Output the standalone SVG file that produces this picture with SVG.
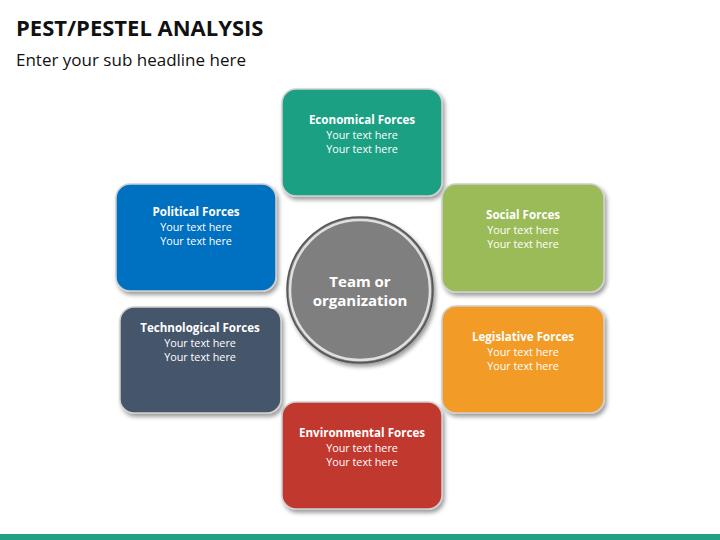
<svg xmlns="http://www.w3.org/2000/svg" width="720" height="540" viewBox="0 0 720 540">
<defs>
<filter id="sh" x="-10%" y="-10%" width="125%" height="125%"><feDropShadow dx="2" dy="3" stdDeviation="2" flood-color="#000" flood-opacity="0.4"/></filter>
<style>
text{font-family:"Open Sans","Noto Sans","Liberation Sans",sans-serif;fill:#fff;text-anchor:middle}
.t{font-size:11.6px;font-weight:bold}
.s{font-size:10.8px}
.box{stroke:#d0d0d0;stroke-width:1.5;filter:url(#sh)}
</style>
</defs>
<rect width="720" height="540" fill="#fff"/>
<text x="16" y="36" style="font-size:22px;font-weight:bold;fill:#111;text-anchor:start">PEST/PESTEL ANALYSIS</text>
<text x="16" y="66" style="font-size:17px;fill:#111;text-anchor:start">Enter your sub headline here</text>
<g id="economical"><rect class="box" x="282" y="89" width="160" height="107" rx="14" fill="#1fa084"/><text class="t" x="362" y="124">Economical Forces</text><text class="s" x="362" y="139">Your text here</text><text class="s" x="362" y="153">Your text here</text></g>
<g id="social"><rect class="box" x="442" y="184" width="162" height="108" rx="14" fill="#9bbb59"/><text class="t" x="523" y="219">Social Forces</text><text class="s" x="523" y="234">Your text here</text><text class="s" x="523" y="248">Your text here</text></g>
<g id="legislative"><rect class="box" x="442" y="306" width="162" height="107" rx="14" fill="#f29b26"/><text class="t" x="523" y="341">Legislative Forces</text><text class="s" x="523" y="356">Your text here</text><text class="s" x="523" y="370">Your text here</text></g>
<g id="environmental"><rect class="box" x="282" y="402" width="160" height="107" rx="14" fill="#c0392f"/><text class="t" x="362" y="437">Environmental Forces</text><text class="s" x="362" y="452">Your text here</text><text class="s" x="362" y="466">Your text here</text></g>
<g id="technological"><rect class="box" x="120" y="307" width="161" height="106" rx="14" fill="#44546a"/><text class="t" x="200" y="332">Technological Forces</text><text class="s" x="200" y="347">Your text here</text><text class="s" x="200" y="361">Your text here</text></g>
<g id="political"><rect class="box" x="116" y="184" width="160" height="107" rx="14" fill="#0070c0"/><text class="t" x="196" y="216">Political Forces</text><text class="s" x="196" y="231">Your text here</text><text class="s" x="196" y="245">Your text here</text></g>
<g id="center"><circle cx="360" cy="290" r="73" fill="#7f7f7f" stroke="#555" stroke-width="1.5" filter="url(#sh)"/><circle cx="360" cy="290" r="70" fill="none" stroke="#e0e0e0" stroke-width="2.5"/><text x="360" y="287" style="font-size:15px;font-weight:bold">Team or</text><text x="360" y="306" style="font-size:15px;font-weight:bold">organization</text></g>
<g id="connectors"/>
<rect x="0" y="534" width="720" height="6" fill="#21a085"/>
</svg>
